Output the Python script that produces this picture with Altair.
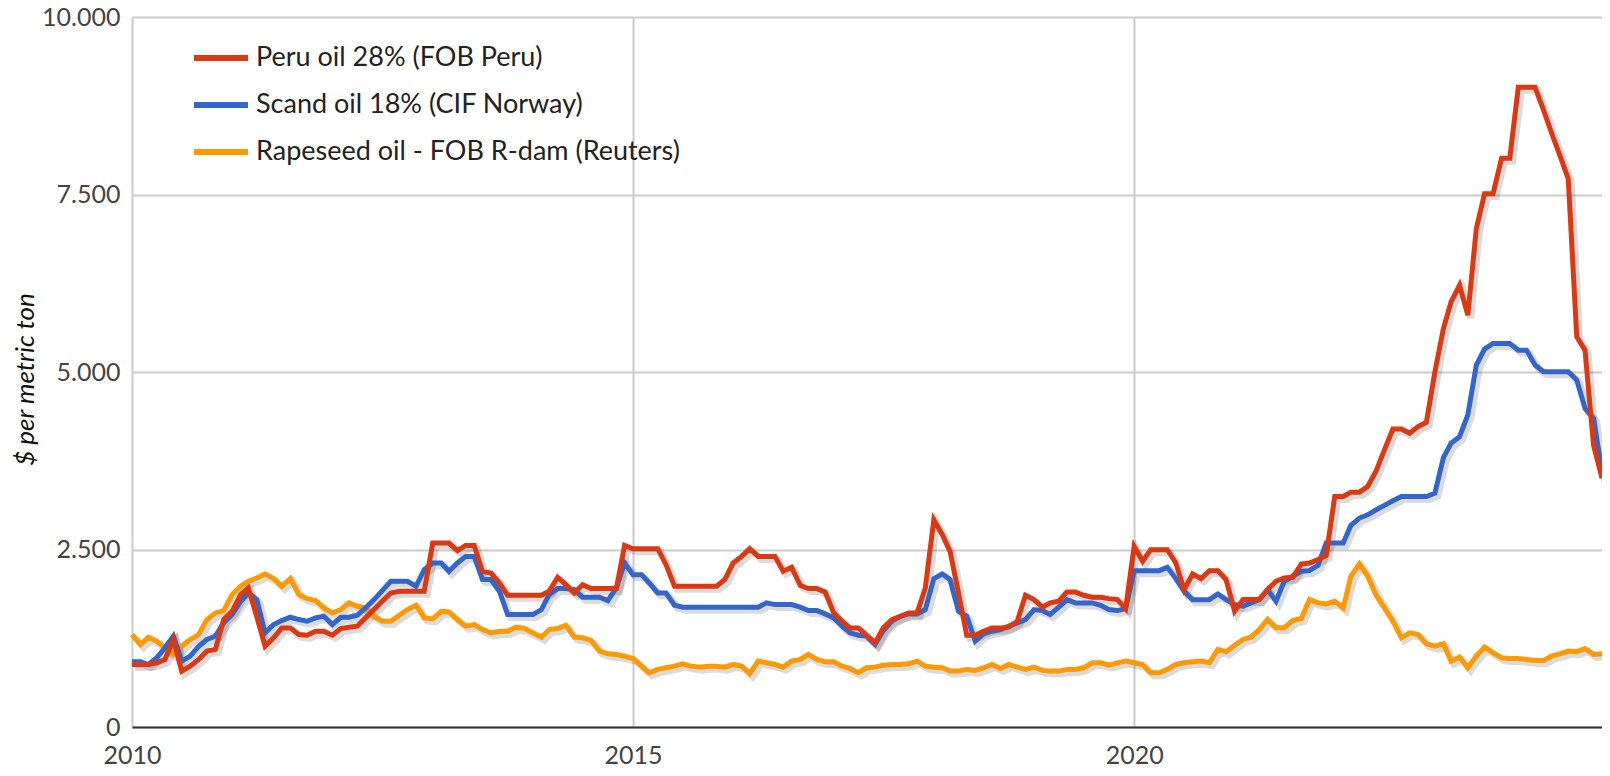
import altair as alt
import pandas as pd

SERIES = ["Peru oil 28% (FOB Peru)", "Scand oil 18% (CIF Norway)", "Rapeseed oil - FOB R-dam (Reuters)"]
COLORS = ["#dc3912", "#3366cc", "#ff9900"]
START = "2010-01-01"
Y_TICKS = [0, 2500, 5000, 7500, 10000]
X_TICK_YEARS = [2010, 2015, 2020]

# monthly values, Jan 2010 onwards (one row per year)
peru = [
    880, 880, 880, 904, 951, 1232, 787, 857, 951, 1068, 1092, 1513,
    1630, 1865, 1958, 1550, 1138, 1256, 1396, 1396, 1302, 1293, 1349, 1349,
    1293, 1387, 1406, 1420, 1537, 1654, 1771, 1888, 1912, 1912, 1912, 1912,
    2591, 2591, 2591, 2483, 2558, 2558, 2193, 2169, 2029, 1855, 1855, 1855,
    1855, 1855, 1912, 2108, 2005, 1888, 2005, 1949, 1949, 1949, 1949, 2558,
    2511, 2511, 2511, 2511, 2286, 1982, 1982, 1982, 1982, 1982, 1982, 2076,
    2310, 2403, 2511, 2403, 2403, 2403, 2193, 2249, 1996, 1949, 1949, 1902,
    1607, 1490, 1396, 1396, 1290, 1185, 1396, 1513, 1560, 1607, 1607, 1958,
    2919, 2708, 2474, 1888, 1293, 1293, 1349, 1396, 1396, 1406, 1490, 1855,
    1794, 1687, 1748, 1771, 1902, 1902, 1855, 1827, 1827, 1808, 1794, 1668,
    2544, 2333, 2497, 2497, 2497, 2310, 1935, 2155, 2090, 2202, 2202, 2076,
    1630, 1795, 1795, 1795, 1935, 2052, 2099, 2109, 2296, 2310, 2357, 2418,
    3247, 3247, 3308, 3308, 3388, 3608, 3903, 4198, 4198, 4137, 4231, 4292,
    5000, 5613, 5988, 6222, 5800, 7018, 7511, 7511, 8012, 8012, 9010, 9010,
    9010, 8690, 8370, 8045, 7721, 5496, 5308, 3973, 3505,
]
scand = [
    918, 918, 880, 974, 1115, 1279, 928, 998, 1138, 1232, 1279, 1466,
    1584, 1771, 1888, 1794, 1326, 1443, 1499, 1546, 1513, 1490, 1537, 1560,
    1443, 1546, 1546, 1574, 1677, 1794, 1921, 2052, 2052, 2052, 1982, 2216,
    2310, 2310, 2193, 2310, 2403, 2403, 2076, 2076, 1912, 1584, 1584, 1584,
    1584, 1654, 1865, 1949, 1949, 1935, 1827, 1827, 1827, 1780, 1958, 2310,
    2146, 2146, 2029, 1888, 1888, 1715, 1687, 1687, 1687, 1687, 1687, 1687,
    1687, 1687, 1687, 1687, 1748, 1724, 1724, 1724, 1687, 1640, 1640, 1593,
    1537, 1420, 1326, 1293, 1280, 1162, 1359, 1490, 1560, 1593, 1593, 1654,
    2090, 2155, 2076, 1630, 1560, 1209, 1312, 1349, 1373, 1420, 1466, 1513,
    1654, 1640, 1584, 1687, 1794, 1748, 1748, 1748, 1715, 1654, 1640, 1668,
    2202, 2202, 2202, 2202, 2249, 2090, 1912, 1794, 1794, 1794, 1874, 1794,
    1724, 1701, 1748, 1795, 1935, 1771, 2052, 2123, 2193, 2202, 2277, 2591,
    2591, 2591, 2840, 2943, 2989, 3060, 3121, 3186, 3247, 3247, 3247, 3247,
    3294, 3795, 3997, 4090, 4395, 5098, 5323, 5402, 5402, 5402, 5308, 5308,
    5098, 5004, 5004, 5004, 5004, 4887, 4489, 4348, 3600,
]
rapeseed = [
    1302, 1162, 1265, 1209, 1115, 1021, 1138, 1232, 1302, 1513, 1607, 1640,
    1865, 1982, 2052, 2099, 2155, 2090, 1982, 2090, 1865, 1808, 1780, 1677,
    1607, 1654, 1748, 1701, 1677, 1560, 1490, 1490, 1574, 1654, 1715, 1537,
    1523, 1630, 1621, 1513, 1420, 1443, 1373, 1326, 1349, 1349, 1406, 1387,
    1326, 1265, 1373, 1387, 1434, 1265, 1256, 1218, 1068, 1031, 1021, 998,
    965, 857, 764, 811, 834, 857, 890, 857, 843, 857, 857, 843,
    881, 857, 750, 928, 904, 881, 843, 928, 951, 1021, 951, 918,
    918, 857, 825, 764, 834, 843, 871, 881, 881, 890, 928, 857,
    843, 834, 787, 787, 811, 797, 834, 881, 825, 881, 843, 811,
    843, 797, 787, 787, 811, 811, 834, 904, 904, 871, 904, 928,
    904, 881, 764, 764, 811, 881, 904, 918, 928, 904, 1092, 1059,
    1150, 1233, 1265, 1373, 1514, 1397, 1397, 1500, 1528, 1795, 1748, 1734,
    1771, 1678, 2123, 2296, 2123, 1856, 1678, 1490, 1256, 1326, 1303, 1172,
    1139, 1172, 928, 984, 834, 998, 1125, 1045, 975, 966, 966, 951,
    937, 937, 998, 1031, 1069, 1059, 1106, 1022, 1031,
]

rows = []
last = None
for name, vals in zip(SERIES, [peru, scand, rapeseed]):
    dates = pd.date_range(START, periods=len(vals), freq="MS")
    for d, v in zip(dates, vals):
        rows.append({"date": d.strftime("%Y-%m-%dT00:00:00"), "series": name, "value": v})
    if last is None or dates[-1] > last:
        last = dates[-1]
df = pd.DataFrame(rows)

FONT = "Lato"

x_enc = alt.X(
    "date:T",
    title=None,
    scale=alt.Scale(domain=[alt.DateTime(year=2010, month=1, date=1),
                            alt.DateTime(year=int(last.year), month=int(last.month), date=1)]),
    axis=alt.Axis(
        values=[alt.DateTime(year=yr, month=1, date=1) for yr in X_TICK_YEARS],
        format="%Y", grid=True, gridColor="#cccccc", gridWidth=2,
        domain=True, domainColor="#333333", domainWidth=2,
        ticks=False, tickSize=0, labelFlush=False,
        labelFontSize=25, labelColor="#444444", labelFont=FONT, labelPadding=16,
    ),
)
y_enc = alt.Y(
    "value:Q",
    title="$ per metric ton",
    scale=alt.Scale(domain=[0, 10000], nice=False),
    axis=alt.Axis(
        values=Y_TICKS,
        labelExpr="replace(format(datum.value, ','), ',', '.')",
        grid=True, gridColor="#cccccc", gridWidth=2,
        domain=False, ticks=False, tickSize=0,
        labelFontSize=25, labelColor="#444444", labelFont=FONT, labelPadding=12,
        titleFont=FONT, titleFontSize=26, titleFontStyle="italic", titleFontWeight="normal",
        titleColor="#111111", titleX=-107, titleY=362, titleAngle=270,
        titleAlign="center", titleBaseline="middle",
    ),
)

color_enc = alt.Color(
    "series:N",
    scale=alt.Scale(domain=SERIES, range=COLORS),
    legend=alt.Legend(
        title=None, orient="none", legendX=59, legendY=11,
        symbolType="stroke", symbolSize=2916, symbolStrokeWidth=6,
        labelFontSize=27, labelFont=FONT, labelColor="#222222", labelLimit=700,
        rowPadding=4, labelOffset=5, padding=0,
    ),
)

base = alt.Chart(df)

shadow = base.mark_line(
    strokeWidth=7, color="#000000", opacity=0.14, xOffset=3, yOffset=3
).encode(x=x_enc, y=y_enc, detail="series:N")

layers = [shadow]
for name in [SERIES[2], SERIES[1], SERIES[0]]:
    layers.append(
        base.transform_filter(alt.datum.series == name)
        .mark_line(strokeWidth=5)
        .encode(x=x_enc, y=y_enc, color=color_enc)
    )

chart = (
    alt.layer(*layers)
    .properties(
        width=1470, height=710,
        autosize=alt.AutoSizeParams(type="none"),
        padding={"left": 124, "top": 9, "right": 0, "bottom": 40},
    )
    .configure_view(strokeWidth=0)
    .configure(font=FONT)
)

chart.save("out.html", embed_options={"renderer": "svg", "actions": False})
